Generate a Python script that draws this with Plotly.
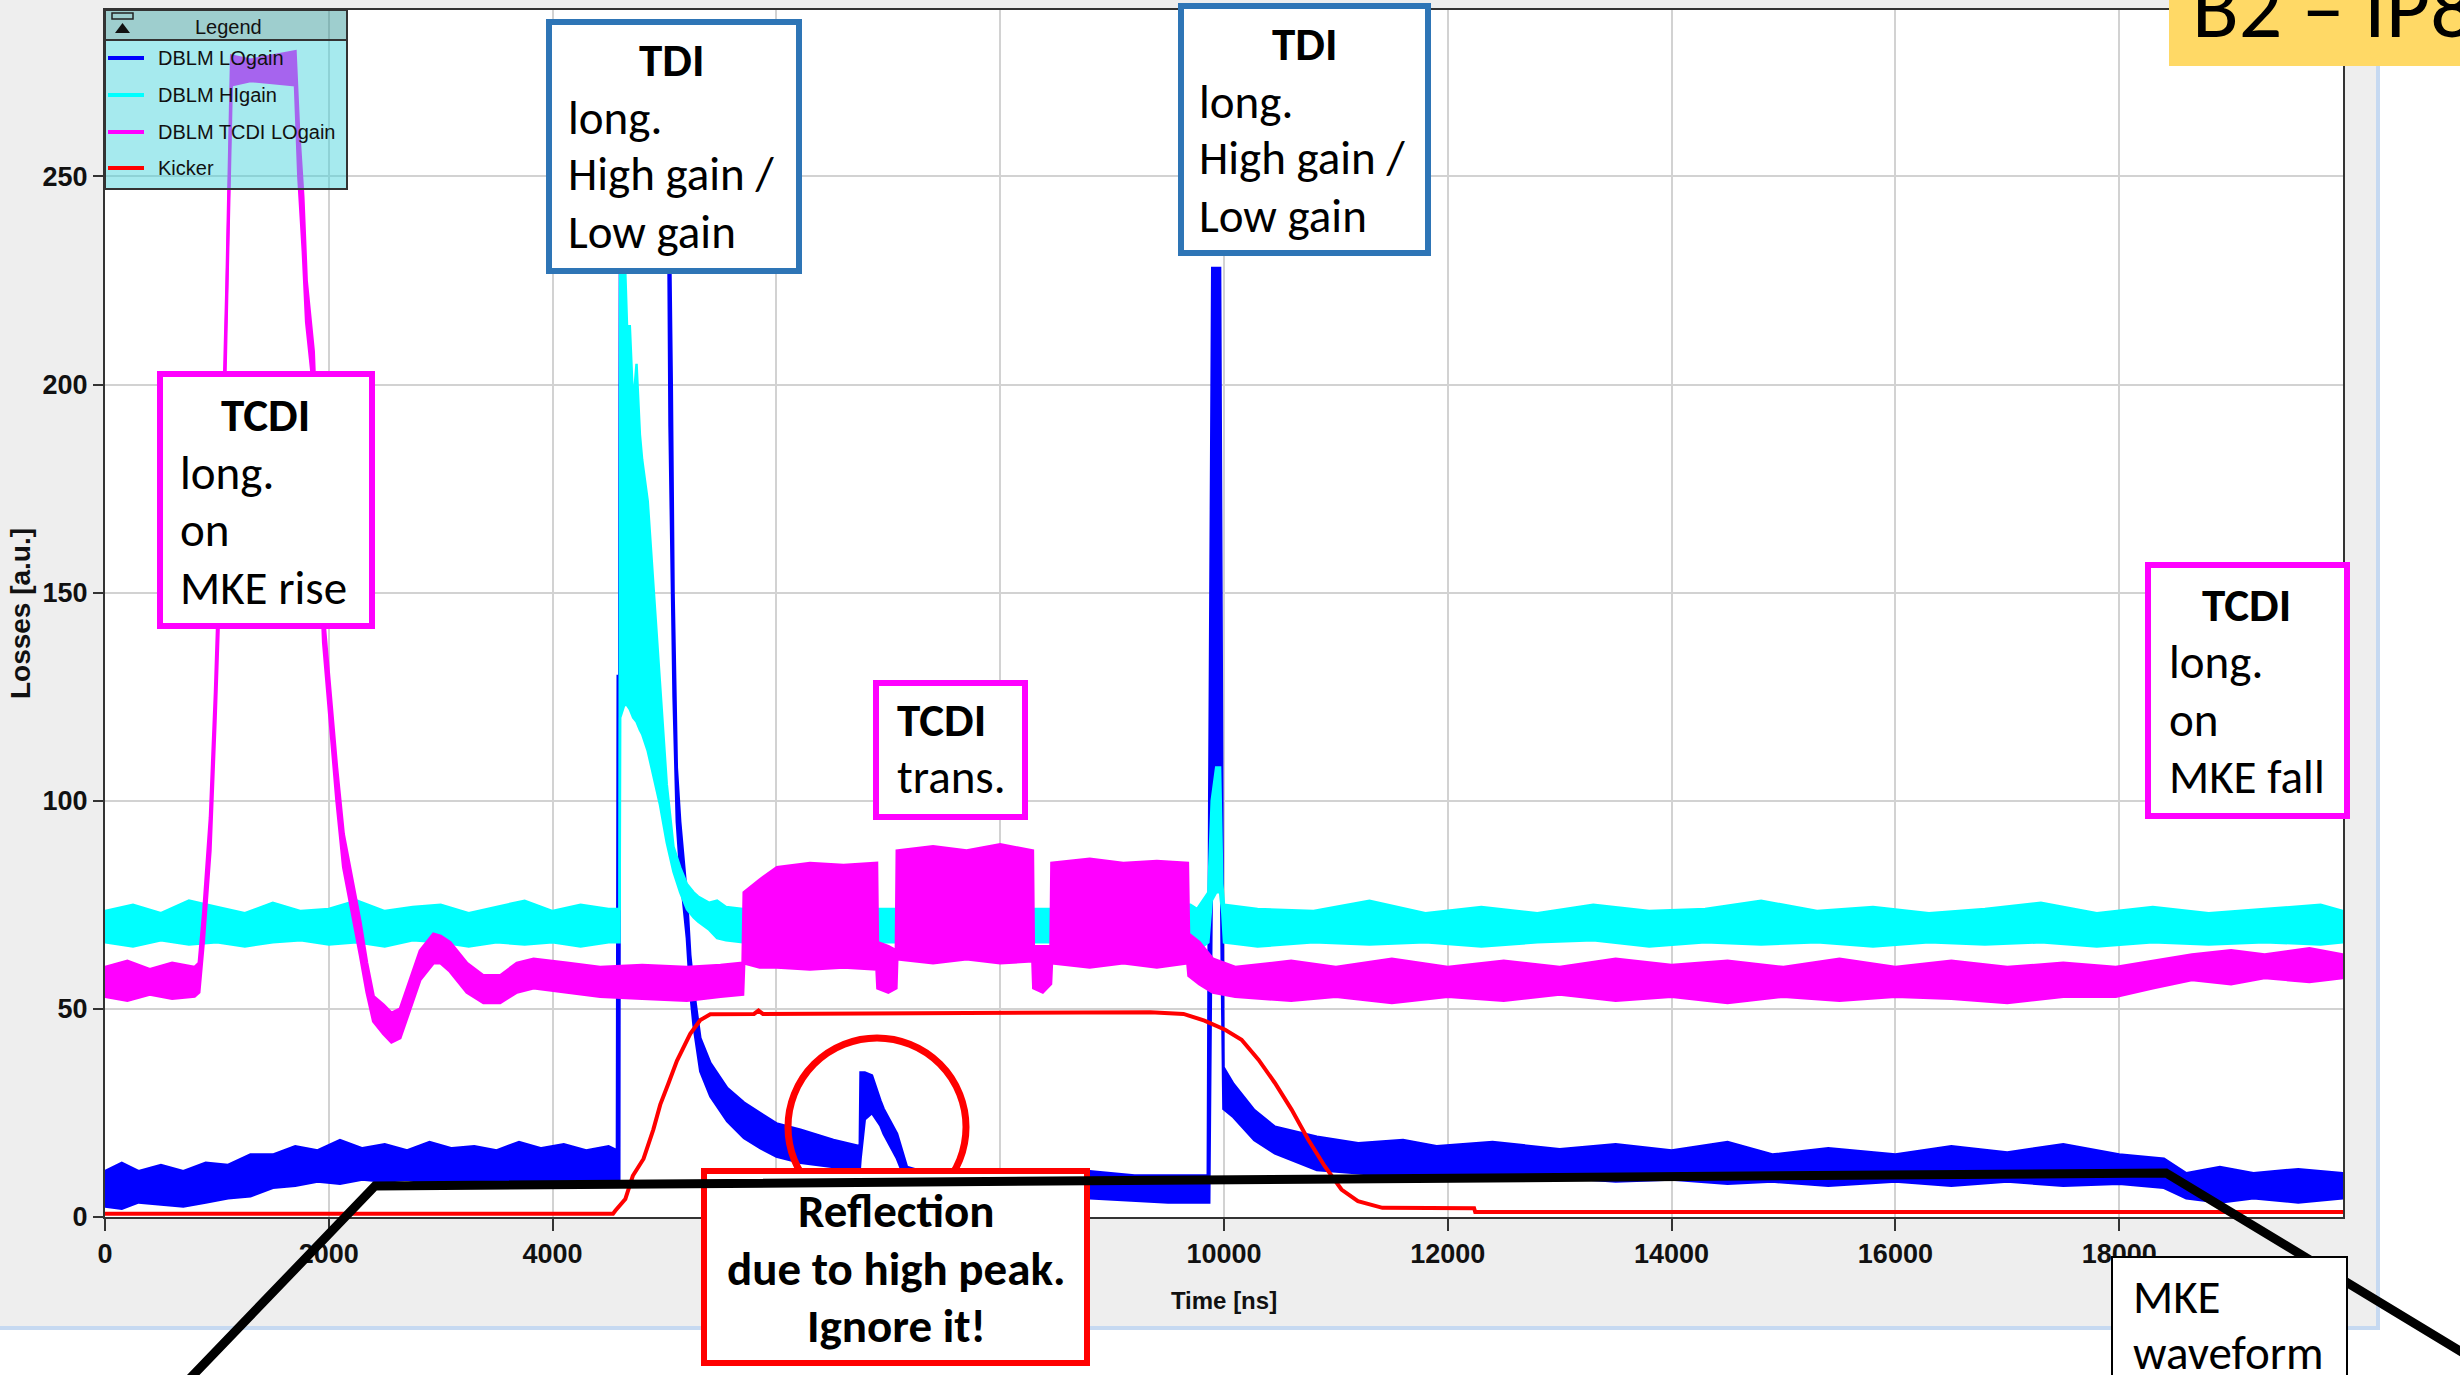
import plotly.graph_objects as go

# ---------------- data ----------------
series_names = ["DBLM LOgain", "DBLM HIgain", "DBLM TCDI LOgain", "Kicker"]
series_colors = ["#0000ff", "#00ffff", "#ff00ff", "#ff0000"]

x_tick_vals = [0, 2000, 4000, 6000, 8000, 10000, 12000, 14000, 16000, 18000]
x_tick_text = ["0", "2000", "4000", "6000", "8000", "10000", "12000", "14000", "16000", "18000"]
y_tick_vals = [0, 50, 100, 150, 200, 250]
y_tick_text = ["0", "50", "100", "150", "200", "250"]

# DBLM LOgain : noise band (lower / upper envelope)
blue_t = [0, 150, 300, 500, 700, 900, 1100, 1300, 1500, 1700,
          1900, 2100, 2300, 2500, 2700, 2900, 3100, 3300, 3500, 3700,
          3900, 4100, 4300, 4500, 4575, 4582, 4596, 4604, 5035, 5045,
          5065, 5081, 5110, 5140, 5200, 5230, 5260, 5320, 5410, 5560,
          5710, 5860, 6000, 6215, 6510, 6745, 6752, 6790, 6854, 6929,
          6958, 7078, 7167, 7300, 7800, 8300, 8800, 9200, 9500, 9855,
          9868, 9895, 9965, 9980, 9995, 10084, 10270, 10455, 10830, 11200,
          11600, 11900, 12400, 13000, 13500, 14000, 14500, 14900, 15400, 16000,
          16500, 17000, 17500, 18000, 18400, 18600, 18900, 19200, 19600, 20000]
blue_lo = [2.5, 2, 3.5, 3, 2.5, 3.5, 4.5, 5, 7, 7.5,
           8.5, 8, 9, 8.5, 9, 8, 9, 8.5, 9, 8.5,
           9, 8.5, 9, 8.5, 9, 9, 9, 232, 232, 190,
           150, 125, 95, 83, 67, 54, 46, 35, 29, 23,
           19, 16.5, 14.5, 13, 12, 11.5, 14, 23.5, 25, 22,
           20, 14, 8, 5, 5, 4.5, 4.5, 4, 3.5, 3.5,
           3.5, 95, 110, 60, 26, 24, 18.5, 15.3, 11.3, 10.5,
           9.5, 10.1, 9, 9.5, 8.5, 9, 8, 8.5, 7.5, 8.5,
           7.5, 8.5, 7.5, 8, 7, 4.5, 3.5, 4.5, 3.5, 4.5]
blue_hi = [11, 13, 11, 12.5, 11, 13, 12.5, 15, 15, 17,
           16, 18.5, 16.5, 17.5, 16, 18, 16.5, 17, 16, 18,
           16.5, 17.5, 16, 17, 16, 130, 130, 250, 250, 245,
           200, 150, 108, 95, 77, 63, 55, 43, 37, 31,
           27.5, 25, 22.5, 21, 18.5, 17, 34.7, 34.7, 34, 28,
           26, 20, 12, 11, 11, 11, 11, 10, 10, 10,
           100, 228, 228, 113, 36, 32, 25.7, 21.7, 19.3, 17.7,
           18.5, 17, 18, 16.3, 17.5, 16, 18, 15, 16.5, 15,
           17, 15.5, 17.5, 15, 14, 10.5, 12, 10.5, 11.5, 10.5]

# DBLM HIgain
cyan_t = [0, 250, 500, 750, 1000, 1250, 1500, 1750, 2000, 2250,
          2500, 2750, 3000, 3250, 3500, 3750, 4000, 4250, 4500, 4598,
          4604, 4640, 4665, 4690, 4720, 4750, 4780, 4800, 4850, 4900,
          4960, 5020, 5080, 5140, 5200, 5260, 5300, 5400, 5470, 5550,
          5700, 6000, 7000, 8000, 9000, 9700, 9760, 9860, 9890, 9930,
          9965, 9985, 10000, 10300, 10800, 11300, 11800, 12300, 12800, 13300,
          13800, 14300, 14800, 15300, 15800, 16300, 16800, 17300, 17800, 18300,
          18800, 19300, 19800, 20000]
cyan_lo = [66, 65, 66.5, 65.5, 66, 65, 66, 66.5, 65.5, 66,
           65, 66.5, 66, 65, 66, 65.5, 66, 65, 66, 66,
           120, 123, 123, 122, 120, 119, 117, 116, 112, 106,
           99, 90, 83, 78, 74, 72, 71, 69, 67, 66.5,
           66, 66, 66, 66, 66, 66, 64, 66, 76, 78,
           78, 73, 66, 65, 66, 65.5, 66, 65, 66, 66.5,
           65, 66, 65.5, 66, 65, 66, 65.5, 66, 65, 66,
           65.5, 66, 65.5, 66]
cyan_hi = [73.5, 75, 73, 76, 74.5, 73, 75.5, 73.5, 74, 76,
           73.5, 74.5, 75, 73, 74.5, 76, 73.5, 75, 74, 74,
           235, 235, 214, 214, 195, 205, 188, 182, 172, 152,
           126, 104, 89, 84, 80, 78, 77, 75.5, 76, 74.5,
           74, 74, 74, 74, 74, 75, 74, 78, 100, 108,
           108, 80, 75, 74, 73.5, 76, 73, 74.5, 73, 75,
           73.5, 74, 76, 73.5, 74.5, 73, 74, 75.5, 73, 74.5,
           73, 74, 75, 73.5]

# DBLM TCDI LOgain
mag_t = [0, 200, 400, 600, 800, 840, 880, 940, 985, 1015,
         1060, 1088, 1130, 1300, 1500, 1700, 1730, 1770, 1800, 1863,
         1952, 2012, 2071, 2131, 2220, 2280, 2340, 2399, 2488, 2560,
         2637, 2727, 2816, 2935, 3000, 3084, 3234, 3382, 3531, 3681,
         3830, 4128, 4425, 4800, 5200, 5500, 5700, 5710, 5850, 6005,
         6300, 6600, 6897, 6905, 7000, 7070, 7078, 7400, 7700, 8000,
         8290, 8298, 8380, 8452, 8460, 8800, 9100, 9400, 9675, 9685,
         9780, 9900, 10100, 10600, 11000, 11500, 12000, 12500, 13000, 13500,
         14000, 14500, 15000, 15500, 16000, 16500, 17000, 17500, 17970, 18300,
         18650, 19000, 19300, 19700, 20000]
mag_lo = [53, 52, 53.5, 52.5, 53, 54, 66, 88, 119, 143,
          185, 217, 272, 273, 272.5, 272, 250, 232, 215, 199,
          138, 119, 100, 84, 72, 63, 54, 47, 44, 42,
          43, 50, 57, 61, 61, 59, 54, 51.5, 51.5, 54,
          55, 54, 53, 52.5, 52, 53, 53.5, 61, 60, 60,
          59.5, 60, 59.5, 55, 54, 55, 62, 61, 62, 61,
          61.5, 55, 54, 56, 61, 60, 61, 60, 61, 58,
          56, 54, 53, 52, 53, 51.5, 53, 52, 53.5, 52,
          53, 51.5, 53, 52, 53, 52.5, 51.5, 53, 53, 55,
          57, 56, 57.5, 56.5, 57.5]
mag_hi = [60, 61.5, 59.5, 61, 60, 61, 73, 96, 126, 151,
          195, 224, 279, 278, 279, 280, 262, 245, 225, 208,
          145, 126, 108, 92, 80, 71, 61, 53, 51, 49,
          50, 57, 64, 68, 67.5, 66, 61, 58, 58, 61,
          62, 61, 60, 60.5, 60, 60.5, 61, 78, 81, 84,
          85, 84.5, 85, 66, 65, 64, 88, 89, 88, 89.5,
          88, 65, 65, 65, 85, 86, 85, 85.5, 85, 68,
          66, 62, 60, 61.5, 60, 62, 60, 61.5, 60, 62,
          60.5, 61.5, 60, 62, 60, 61.5, 60, 61, 60, 61.5,
          63, 64, 63, 64.5, 63]

# Kicker
red_t = [0, 4540, 4560, 4650, 4717, 4813, 4900, 4962, 5034, 5111,
         5230, 5320, 5409, 5558, 5800, 5840, 5880, 9342, 9638, 9825,
         10010, 10157, 10308, 10455, 10604, 10752, 10900, 11050, 11197, 11416,
         12235, 12245, 20000]
red_v = [0.8, 0.8, 1.5, 4.3, 9.9, 14, 21, 27, 32, 37.5,
         44, 47.3, 48.7, 48.8, 48.8, 49.6, 48.8, 49.2, 48.8, 47.2,
         45, 42.6, 37.8, 32.2, 25.8, 18.6, 12.2, 6.6, 3.8, 2.2,
         2.1, 1.2, 1.2]

# ---------------- layout helpers ----------------
FIG_W, FIG_H = 2460, 1375
PL, PR, PT, PB = 105, 2343, 10, 1217


def px(x):
    return (x - PL) / (PR - PL)


def py(y):
    return (PB - y) / (PB - PT)


TICK_FONT = "Liberation Sans Narrow, Arial Narrow, Liberation Sans, sans-serif"
LEG_FONT = "Liberation Sans, Arial, sans-serif"
BOX_FONT = "Carlito, Calibri, Lato, sans-serif"

fig = go.Figure()


def add_band(t, lo, hi, color, name, w):
    fig.add_trace(go.Scatter(x=t, y=lo, mode="lines", line=dict(color=color, width=w),
                             name=name, showlegend=False, hoverinfo="skip"))
    fig.add_trace(go.Scatter(x=t, y=hi, mode="lines", line=dict(color=color, width=w),
                             fill="tonexty", fillcolor=color, name=name, showlegend=False))


add_band(blue_t, blue_lo, blue_hi, series_colors[0], series_names[0], 2.5)
add_band(cyan_t, cyan_lo, cyan_hi, series_colors[1], series_names[1], 2.5)
add_band(mag_t, mag_lo, mag_hi, series_colors[2], series_names[2], 3)
fig.add_trace(go.Scatter(x=red_t, y=red_v, mode="lines", line=dict(color=series_colors[3], width=4),
                         name=series_names[3], showlegend=False))

shapes = []


def rect(x0, y0, x1, y1, layer="above", **kw):
    shapes.append(dict(type="rect", xref="paper", yref="paper", x0=px(x0), x1=px(x1),
                       y0=py(y1), y1=py(y0), layer=layer, **kw))


def seg(x0, y0, x1, y1, color, width, layer="above"):
    shapes.append(dict(type="line", xref="paper", yref="paper", x0=px(x0), x1=px(x1),
                       y0=py(y0), y1=py(y1), layer=layer, line=dict(color=color, width=width)))


# background panel of the screenshot
rect(-10, -10, 2378, 1328, layer="below", fillcolor="#eeeeee", line=dict(width=0))
rect(PL, PT, PR, PB, layer="below", fillcolor="#ffffff", line=dict(width=0))
seg(2378, -10, 2378, 1330, "#c6d9f1", 4, layer="below")
seg(-10, 1328, 2380, 1328, "#c6d9f1", 4, layer="below")

# legend panel
rect(105, 40, 347, 189, fillcolor="rgba(67,210,219,0.475)", line=dict(width=0))
rect(105, 10, 347, 40, fillcolor="rgba(50,152,152,0.475)", line=dict(width=0))
rect(105, 10, 347, 189, fillcolor="rgba(0,0,0,0)", line=dict(color="#333333", width=2))
seg(105, 40, 347, 40, "#333333", 2)
rect(112, 13, 133, 19, fillcolor="rgba(0,0,0,0)", line=dict(color="#222222", width=1.5))
shapes.append(dict(type="path", xref="paper", yref="paper", layer="above",
                   path=f"M {px(115)} {py(33)} L {px(122.5)} {py(23)} L {px(130)} {py(33)} Z",
                   fillcolor="#111111", line=dict(width=0)))
leg_rows = [58, 95, 132, 168]
for i, yy in enumerate(leg_rows):
    seg(108, yy, 144, yy, series_colors[i], 4)

# annotation boxes
rect(549, 22, 799, 271, fillcolor="white", line=dict(color="#2e75b6", width=6))
rect(1181, 6, 1428, 253, fillcolor="white", line=dict(color="#2e75b6", width=6))
rect(160, 374, 372, 626, fillcolor="white", line=dict(color="#ff00ff", width=6))
rect(876, 683, 1025, 817, fillcolor="white", line=dict(color="#ff00ff", width=6))
rect(2148, 565, 2347, 816, fillcolor="white", line=dict(color="#ff00ff", width=6))
shapes.append(dict(type="circle", xref="paper", yref="paper", layer="above",
                   x0=px(877 - 89), x1=px(877 + 89), y0=py(1127 + 89), y1=py(1127 - 89),
                   line=dict(color="#ff0000", width=7), fillcolor="rgba(0,0,0,0)"))
rect(704, 1171, 1087, 1363, fillcolor="white", line=dict(color="#ff0000", width=6))
# MKE waveform sketch
shapes.append(dict(type="path", xref="paper", yref="paper", layer="above",
                   path=(f"M {px(174)} {py(1395)} L {px(375)} {py(1186)} L {px(2166)} {py(1173)} "
                         f"L {px(2480)} {py(1363)}"),
                   line=dict(color="black", width=9), fillcolor="rgba(0,0,0,0)"))
rect(2112, 1257, 2347, 1400, fillcolor="white", line=dict(color="black", width=2))
# yellow page label
rect(2169, -10, 2470, 66, fillcolor="#ffd966", line=dict(width=0))

annotations = []


def txt(x, y, s, size, family=BOX_FONT, xanchor="left", yanchor="middle", color="black"):
    annotations.append(dict(xref="paper", yref="paper", x=px(x), y=py(y), text=s, showarrow=False,
                            xanchor=xanchor, yanchor=yanchor,
                            font=dict(family=family, size=size, color=color)))


# legend text
txt(228, 27, "Legend", 20, family=LEG_FONT, xanchor="center", color="#111111")
for i, yy in enumerate(leg_rows):
    txt(156, yy, series_names[i], 20, family=LEG_FONT, color="#111111")

BS = 47
# box A
txt(671, 60, "<b>TDI</b>", BS, xanchor="center")
txt(566, 118, "long.", BS)
txt(566, 174, "High gain /", BS)
txt(566, 232, "Low gain", BS)
# box B
txt(1304, 44, "<b>TDI</b>", BS, xanchor="center")
txt(1197, 102, "long.", BS)
txt(1197, 158, "High gain /", BS)
txt(1197, 216, "Low gain", BS)
# box C
txt(265, 415, "<b>TCDI</b>", BS, xanchor="center")
txt(178, 473, "long.", BS)
txt(178, 530, "on", BS)
txt(178, 588, "MKE rise", BS)
# box D
txt(895, 720, "<b>TCDI</b>", BS)
txt(895, 777, "trans.", BS)
# box E
txt(2246, 605, "<b>TCDI</b>", BS, xanchor="center")
txt(2167, 662, "long.", BS)
txt(2167, 720, "on", BS)
txt(2167, 777, "MKE fall", BS)
# box F
txt(896, 1211, "<b>Reflection</b>", BS, xanchor="center")
txt(896, 1269, "<b>due to high peak.</b>", BS, xanchor="center")
txt(896, 1326, "<b>Ignore it!</b>", BS, xanchor="center")
# box G
txt(2131, 1297, "MKE", BS)
txt(2131, 1353, "waveform", BS)
# page label
txt(2190, 62, "B2 \u2013 IP8", 86, yanchor="bottom")

axis_common = dict(showgrid=True, gridcolor="#d2d2d2", gridwidth=2, zeroline=False,
                   showline=True, linecolor="#333333", linewidth=2, mirror=True,
                   ticks="outside", tickwidth=2, tickcolor="#333333",
                   tickfont=dict(family=TICK_FONT, size=27, color="#111111", weight="bold"))

fig.update_xaxes(range=[0, 20000], tickvals=x_tick_vals, ticktext=x_tick_text, ticklen=12,
                 title=dict(text="Time [ns]", standoff=24,
                            font=dict(family=LEG_FONT, size=24, color="#111111", weight="bold")),
                 **axis_common)
fig.update_yaxes(range=[0, 290], tickvals=y_tick_vals, ticktext=y_tick_text, ticklen=10,
                 title=dict(text="Losses [a.u.]", standoff=4,
                            font=dict(family=LEG_FONT, size=28, color="#111111", weight="bold")),
                 **axis_common)

fig.update_layout(width=FIG_W, height=FIG_H,
                  margin=dict(l=PL, r=FIG_W - PR, t=PT, b=FIG_H - PB, pad=0, autoexpand=False),
                  paper_bgcolor="white", plot_bgcolor="rgba(0,0,0,0)",
                  showlegend=False, shapes=shapes, annotations=annotations)

fig.write_html("out.html", config={"displayModeBar": False},
               post_script="document.body.style.margin='0';")
